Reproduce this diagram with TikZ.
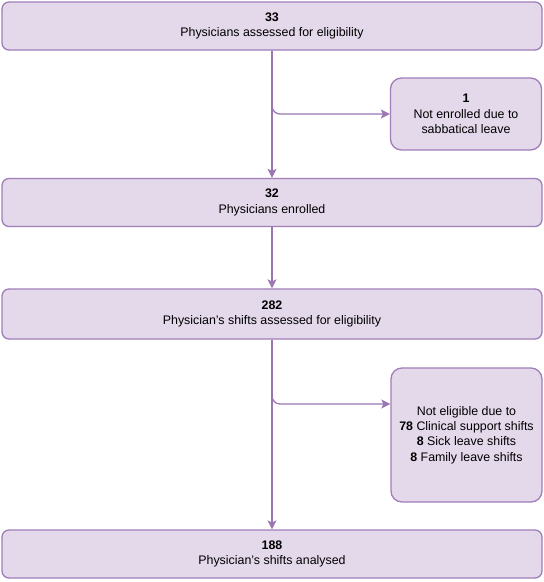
\documentclass[tikz,border=0pt]{standalone}
\usepackage{fontspec}
\setmainfont{Liberation Sans}
\usetikzlibrary{arrows.meta}
\definecolor{boxfill}{HTML}{E4D8EB}
\definecolor{boxline}{HTML}{A07EB8}
\definecolor{conn}{HTML}{9A76B2}
\begin{document}
\begin{tikzpicture}[x=1pt,y=-1pt,
  wide/.style={draw=boxline,fill=boxfill,line width=1.3pt,rounded corners=7pt,
    minimum width=540pt,minimum height=48pt,align=center,inner sep=0pt,
    font=\fontsize{12.4}{15.5}\selectfont},
  side/.style={draw=boxline,fill=boxfill,line width=1.3pt,rounded corners=11pt,
    minimum width=151pt,align=center,inner sep=0pt,
    font=\fontsize{12.4}{15.3}\selectfont},
  link/.style={draw=conn,line width=1.3pt,-{Stealth[length=9pt,width=9pt,inset=2pt]}}]
\useasboundingbox (0,0) rectangle (544,582);
\node[wide] (A) at (272,26) {\textbf{33}\\Physicians assessed for eligibility};
\node[side,minimum height=72pt] (B1) at (466,114) {\textbf{1}\\Not enrolled due to\\sabbatical leave};
\node[wide] (B) at (272,202.5) {\textbf{32}\\Physicians enrolled};
\node[wide,minimum height=50pt] (C) at (272,314) {\textbf{282}\\Physician’s shifts assessed for eligibility};
\node[side,minimum height=134pt] (D) at (466.5,435) {Not eligible due to\\\textbf{78} Clinical support shifts\\\textbf{8} Sick leave shifts\\\textbf{8} Family leave shifts};
\node[wide] (E) at (272,554) {\textbf{188}\\Physician’s shifts analysed};
\draw[link] (A.south) -- (B.north);
\draw[link,rounded corners=8pt] (A.south) |- (B1.west);
\draw[link] (B.south) -- (C.north);
\draw[link] (C.south) -- (E.north);
\draw[link,rounded corners=8pt] (C.south) |- (D.west |- 0,404);
\end{tikzpicture}
\end{document}
